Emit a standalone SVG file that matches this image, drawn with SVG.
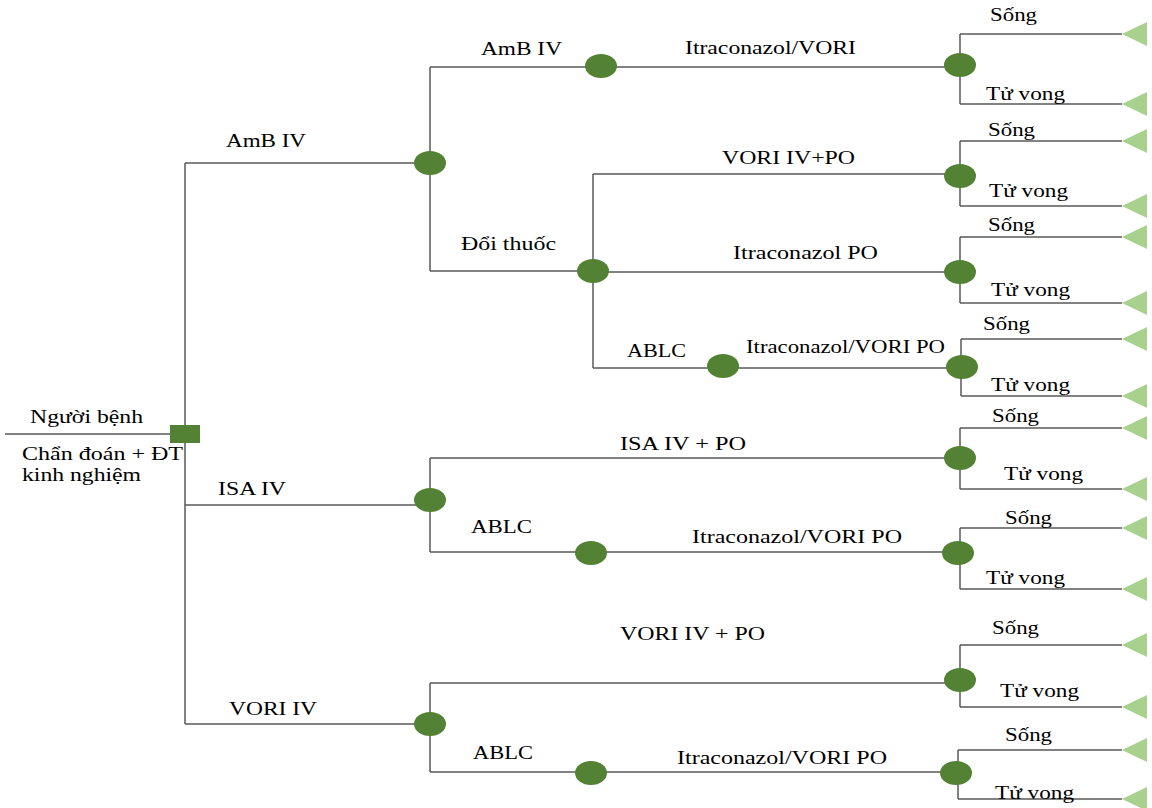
<svg xmlns="http://www.w3.org/2000/svg" width="1152" height="808" viewBox="0 0 1152 808">
<style>
.ln{stroke:#595959;stroke-width:1.5;fill:none}
.ch{fill:#548235}
.tm{fill:#a9d18e}
text{font-family:"Liberation Serif","Times New Roman","DejaVu Serif",serif;font-size:19px;fill:#000}
.c{text-anchor:middle}
</style>
<defs>
<ellipse id="cn" class="ch" rx="16" ry="12"/>
<polygon id="tri" class="tm" points="0,0 25,-12 25,12"/>
</defs>
<rect width="1152" height="808" fill="#fff"/>
<g id="connectors">
<path class="ln" d="M5,434 H185 M185,163 V724 M185,163 H430 M185,505 H430 M185,724 H430"/>
<path class="ln" d="M430,67 V271 M430,67 H960 M430,271 H593 M593,174 V368 M593,174 H960 M593,272 H960 M593,368 H960"/>
<path class="ln" d="M430,458 V552 M430,458 H960 M430,552 H958 M430,683 V772 M430,683 H960 M430,772 H956"/>
<path class="ln" d="M960,34 V104 M960,34 H1122 M960,104 H1122"/>
<path class="ln" d="M960,141 V206 M960,141 H1122 M960,206 H1122"/>
<path class="ln" d="M960,237 V303 M960,237 H1122 M960,303 H1122"/>
<path class="ln" d="M961,339 V396 M961,339 H1122 M961,396 H1122"/>
<path class="ln" d="M960,428 V489 M960,428 H1122 M960,489 H1122"/>
<path class="ln" d="M960,528 V589 M960,528 H1122 M960,589 H1122"/>
<path class="ln" d="M960,645 V707 M960,645 H1122 M960,707 H1122"/>
<path class="ln" d="M958,750 V799 M958,750 H1122 M958,799 H1122"/>
</g>
<g id="root">
<rect class="ch" x="170" y="425" width="30" height="18"/>
<text x="30" y="423" textLength="113" lengthAdjust="spacingAndGlyphs">Người bệnh</text>
<text x="22" y="460" textLength="161" lengthAdjust="spacingAndGlyphs">Chẩn đoán + ĐT</text>
<text x="22" y="481" textLength="119" lengthAdjust="spacingAndGlyphs">kinh nghiệm</text>
</g>
<g id="n-amb"><use href="#cn" x="430" y="163"/><text x="226" y="147" textLength="80" lengthAdjust="spacingAndGlyphs">AmB  IV</text></g>
<g id="n-isa"><use href="#cn" x="430" y="500"/><text x="218" y="495" textLength="68" lengthAdjust="spacingAndGlyphs">ISA  IV</text></g>
<g id="n-vori"><use href="#cn" x="430" y="724"/><text x="229" y="715" textLength="88" lengthAdjust="spacingAndGlyphs">VORI IV</text></g>
<g id="n-amb2"><use href="#cn" x="601" y="66"/><text x="481" y="55" textLength="81" lengthAdjust="spacingAndGlyphs">AmB  IV</text></g>
<g id="n-doi"><use href="#cn" x="593" y="271"/><text x="461" y="250" textLength="95" lengthAdjust="spacingAndGlyphs">Đổi thuốc</text></g>
<g id="n-ablc1"><use href="#cn" x="723" y="366"/><text x="627" y="357" textLength="59" lengthAdjust="spacingAndGlyphs">ABLC</text></g>
<g id="n-ablc2"><use href="#cn" x="591" y="553"/><text x="471" y="533" textLength="61" lengthAdjust="spacingAndGlyphs">ABLC</text></g>
<g id="n-ablc3"><use href="#cn" x="591" y="773"/><text x="473" y="759" textLength="60" lengthAdjust="spacingAndGlyphs">ABLC</text></g>
<g id="t1"><use href="#cn" x="960" y="65"/><text x="685" y="54" textLength="171" lengthAdjust="spacingAndGlyphs">Itraconazol/VORI</text><text x="990" y="21" textLength="47" lengthAdjust="spacingAndGlyphs">Sống</text><text x="986" y="100" textLength="79" lengthAdjust="spacingAndGlyphs">Tử vong</text><use href="#tri" x="1122" y="34"/><use href="#tri" x="1122" y="104"/></g>
<g id="t2"><use href="#cn" x="960" y="176"/><text x="722" y="164" textLength="133" lengthAdjust="spacingAndGlyphs">VORI IV+PO</text><text x="988" y="136" textLength="47" lengthAdjust="spacingAndGlyphs">Sống</text><text x="989" y="197" textLength="79" lengthAdjust="spacingAndGlyphs">Tử vong</text><use href="#tri" x="1122" y="141"/><use href="#tri" x="1122" y="206"/></g>
<g id="t3"><use href="#cn" x="960" y="272"/><text x="733" y="259" textLength="145" lengthAdjust="spacingAndGlyphs">Itraconazol  PO</text><text x="988" y="231" textLength="47" lengthAdjust="spacingAndGlyphs">Sống</text><text x="991" y="296" textLength="79" lengthAdjust="spacingAndGlyphs">Tử vong</text><use href="#tri" x="1122" y="237"/><use href="#tri" x="1122" y="303"/></g>
<g id="t4"><use href="#cn" x="962" y="367"/><text x="746" y="353" textLength="199" lengthAdjust="spacingAndGlyphs">Itraconazol/VORI  PO</text><text x="983" y="330" textLength="47" lengthAdjust="spacingAndGlyphs">Sống</text><text x="991" y="391" textLength="79" lengthAdjust="spacingAndGlyphs">Tử vong</text><use href="#tri" x="1122" y="339"/><use href="#tri" x="1122" y="396"/></g>
<g id="t5"><use href="#cn" x="960" y="458"/><text x="620" y="450" textLength="126" lengthAdjust="spacingAndGlyphs">ISA  IV  + PO</text><text x="992" y="422" textLength="47" lengthAdjust="spacingAndGlyphs">Sống</text><text x="1004" y="480" textLength="79" lengthAdjust="spacingAndGlyphs">Tử vong</text><use href="#tri" x="1122" y="428"/><use href="#tri" x="1122" y="489"/></g>
<g id="t6"><use href="#cn" x="958" y="553"/><text x="692" y="543" textLength="210" lengthAdjust="spacingAndGlyphs">Itraconazol/VORI PO</text><text x="1005" y="524" textLength="47" lengthAdjust="spacingAndGlyphs">Sống</text><text x="986" y="584" textLength="79" lengthAdjust="spacingAndGlyphs">Tử vong</text><use href="#tri" x="1122" y="528"/><use href="#tri" x="1122" y="589"/></g>
<g id="t7"><use href="#cn" x="960" y="680"/><text x="620" y="640" textLength="145" lengthAdjust="spacingAndGlyphs">VORI IV + PO</text><text x="992" y="634" textLength="47" lengthAdjust="spacingAndGlyphs">Sống</text><text x="1000" y="697" textLength="79" lengthAdjust="spacingAndGlyphs">Tử vong</text><use href="#tri" x="1122" y="645"/><use href="#tri" x="1122" y="707"/></g>
<g id="t8"><use href="#cn" x="956" y="773"/><text x="677" y="764" textLength="210" lengthAdjust="spacingAndGlyphs">Itraconazol/VORI PO</text><text x="1005" y="741" textLength="47" lengthAdjust="spacingAndGlyphs">Sống</text><text x="995" y="799" textLength="79" lengthAdjust="spacingAndGlyphs">Tử vong</text><use href="#tri" x="1122" y="750"/><use href="#tri" x="1122" y="799"/></g>
</svg>
